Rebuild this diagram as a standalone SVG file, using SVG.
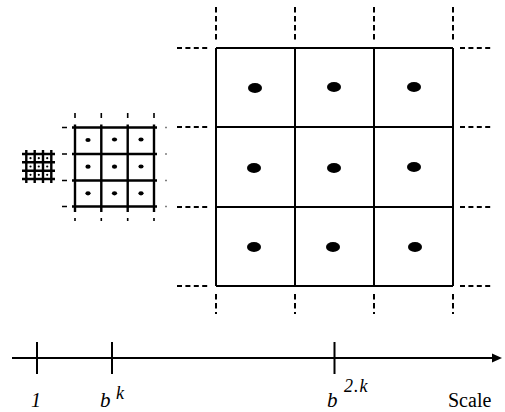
<svg xmlns="http://www.w3.org/2000/svg" width="505" height="412" viewBox="0 0 505 412">
<style>
.grid{stroke:#000;stroke-width:2;fill:none}
.gridm{stroke:#000;stroke-width:2.4;fill:none}
.dashh{stroke:#000;stroke-width:2;fill:none;stroke-dasharray:5 3.4}
.dashv{stroke:#000;stroke-width:2;fill:none;stroke-dasharray:5.5 3.5}
.tick{stroke:#000;stroke-width:1.6;fill:none}
.dot{fill:#000}
.lbl{font-family:"Liberation Serif","Times New Roman",serif;fill:#000}
.it{font-style:italic}
</style>
<rect width="505" height="412" fill="#fff"/>
<g id="grid-small">
  <path class="gridm" d="M22 154H55M22 162.3H55M22 170.7H55M22 179H55M26.3 150V183M34.7 150V183M43 150V183M51.3 150V183"/>
  <g class="dot">
    <circle cx="30.5" cy="158.2" r="1.1"/><circle cx="38.8" cy="158.2" r="1.1"/><circle cx="47.2" cy="158.2" r="1.1"/>
    <circle cx="30.5" cy="166.5" r="1.1"/><circle cx="38.8" cy="166.5" r="1.1"/><circle cx="47.2" cy="166.5" r="1.1"/>
    <circle cx="30.5" cy="174.8" r="1.1"/><circle cx="38.8" cy="174.8" r="1.1"/><circle cx="47.2" cy="174.8" r="1.1"/>
  </g>
</g>
<g id="grid-medium">
  <path class="gridm" d="M72 127.5H157M72 154H157M72 180.5H157M72 206.5H157M75 124.5V212M101.3 124.5V212M127.7 124.5V212M154 124.5V212"/>
  <path class="tick" d="M62 127.5H67M62 154H67M62 180.5H67M62 206.5H67M75 113V118M101.3 113V118M127.7 113V118M154 113V118M75 218V221M101.3 218V221M127.7 218V221M154 218V221"/>
  <path class="tick" stroke-opacity="0.5" d="M165 127.5H167M165 154H167M165 180.5H167M165 206.5H167"/>
  <g class="dot">
    <ellipse cx="88" cy="140" rx="2.6" ry="2.1"/><ellipse cx="114.5" cy="139.5" rx="2.6" ry="2.1"/><ellipse cx="141" cy="139.5" rx="2.6" ry="2.1"/>
    <ellipse cx="88" cy="166.7" rx="2.6" ry="2.1"/><ellipse cx="114.5" cy="166.7" rx="2.6" ry="2.1"/><ellipse cx="141" cy="166.5" rx="2.6" ry="2.1"/>
    <ellipse cx="88" cy="193.3" rx="2.6" ry="2.1"/><ellipse cx="114.5" cy="193.3" rx="2.6" ry="2.1"/><ellipse cx="141" cy="193.3" rx="2.6" ry="2.1"/>
  </g>
</g>
<g id="grid-large">
  <path class="grid" d="M216 48H453M216 127H453M216 207H453M216 286H453M216 48V286M295 48V286M374 48V286M453 48V286"/>
  <path class="dashh" d="M177 48H208M177 127H208M177 207H208M177 286H208M460 48H493M460 127H493M460 207H493M460 286H493"/>
  <path class="dashv" d="M216 7V41M295 7V41M374 7V41M453 7V41M216 294V314M295 294V314M374 294V314M453 294V314"/>
  <g class="dot">
    <ellipse cx="255" cy="88" rx="7" ry="5"/><ellipse cx="334" cy="87" rx="7" ry="5"/><ellipse cx="414" cy="87" rx="7" ry="5"/>
    <ellipse cx="254" cy="168" rx="7" ry="5"/><ellipse cx="334" cy="168" rx="7" ry="5"/><ellipse cx="414" cy="167" rx="7" ry="5"/>
    <ellipse cx="254" cy="247" rx="7" ry="5"/><ellipse cx="333" cy="247" rx="7" ry="5"/><ellipse cx="415" cy="247" rx="7" ry="5"/>
  </g>
</g>
<g id="axis">
  <path class="grid" d="M12 358H494M37 342V374M112 342V374M334.5 342V374"/>
  <polygon points="502,358 492,353.5 492,362.5" fill="#000"/>
</g>
<g id="labels">
  <text class="lbl it" x="31" y="407" font-size="20">1</text>
  <text class="lbl it" x="100" y="407" font-size="21">b</text>
  <text class="lbl it" x="116" y="399" font-size="18">k</text>
  <text class="lbl it" x="327" y="407" font-size="21">b</text>
  <text class="lbl it" x="344" y="392" font-size="18" letter-spacing="1">2.k</text>
  <text class="lbl" x="448" y="407" font-size="20">Scale</text>
</g>
</svg>
